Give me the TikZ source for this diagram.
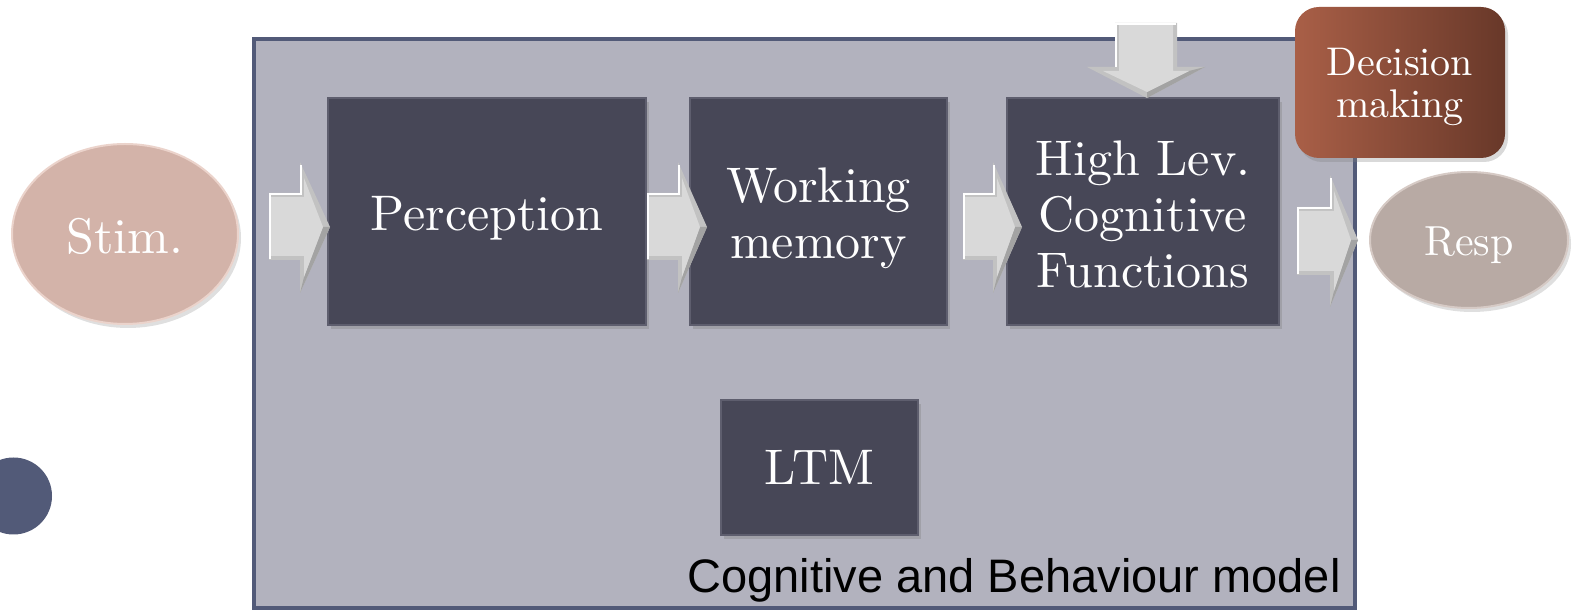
\documentclass[tikz,border=0pt]{standalone}
\usepackage{fontspec}
\newfontfamily\labelfont{Liberation Sans}
\newfontfamily\boxfont{lmroman10-regular}[Extension=.otf]
\usetikzlibrary{shapes.geometric,shadows}

\definecolor{frameblue}{HTML}{525A78}
\definecolor{framefill}{HTML}{B2B2BE}
\definecolor{boxfill}{HTML}{474757}
\definecolor{boxedge}{HTML}{5E5E6E}
\definecolor{stimfill}{HTML}{D3B3A9}
\definecolor{stimrim}{HTML}{EBD3CB}
\definecolor{respfill}{HTML}{B8AAA4}
\definecolor{resprim}{HTML}{D6CAC5}
\definecolor{arrowfill}{HTML}{D9D9D9}
\definecolor{arrowmid}{HTML}{C2C2C2}
\definecolor{arrowdark}{HTML}{A3A3A3}
\definecolor{decLight}{HTML}{A95F47}
\definecolor{decDark}{HTML}{683829}

% right-pointing block arrow: x0, head x, tip x, shaft top, shaft bottom, head top, head bottom, tip y
\newcommand{\rightblock}[8]{%
  \fill[arrowmid] (#1,#4) -- (#2,#4) -- (#2,#6) -- (#3,#8) -- (#2,#7) -- (#2,#5) -- (#1,#5) -- cycle;
  \fill[arrowdark] (#3,#8) -- (#2,#7) -- (#2+4,#7-16) -- (#3-7,#8) -- cycle;
  \fill[arrowfill] (#1+1,#4+4) -- (#2+4,#4+4) -- (#2+4,#6+16) -- (#3-7,#8) -- (#2+4,#7-16) -- (#2+4,#5-4) -- (#1+1,#5-4) -- cycle;
  \draw[white,line width=0.8pt] (#1+1,#5-1) -- (#1+1,#4+1) -- (#2+1,#4+1) -- (#2+1,#6+3);
}

\begin{document}
\begin{tikzpicture}[x=0.5pt,y=-0.5pt,
  darkbox/.style={rectangle,fill=boxfill,draw=boxedge,line width=0.8pt,inner sep=0pt,
    drop shadow={shadow xshift=1.5pt,shadow yshift=-2pt,opacity=0.35}},
  boxlabel/.style={text=white,align=center,inner sep=0pt,font=\boxfont\fontsize{25}{28}\selectfont},
  oval/.style={ellipse,inner sep=0pt,line width=1pt,
    drop shadow={shadow xshift=1.5pt,shadow yshift=-2pt,opacity=0.25}},
]
\useasboundingbox (0,0) rectangle (1572,613);
\clip (0,0) rectangle (1572,613);

% bullet on the left margin
\fill[frameblue] (13.5,496) circle[radius=38.5];

% model frame
\draw[frameblue,fill=framefill,line width=2pt] (254,39) rectangle (1355,608);

% processing stages
\node[darkbox,minimum width=159pt,minimum height=113.5pt] (perc) at (487,211.5) {};
\node[darkbox,minimum width=128.5pt,minimum height=113.5pt] (wm) at (818.5,211.5) {};
\node[darkbox,minimum width=136pt,minimum height=113.5pt] (hl) at (1143,211.5) {};
\node[darkbox,minimum width=98.5pt,minimum height=67.5pt] (ltm) at (819.5,467.5) {};
\node[boxlabel] (percT) at ([yshift=-3.5pt]perc.center) {Perception};
\node[boxlabel] (wmT) at ([yshift=-3.5pt]wm.center) {Working\\memory};
\node[boxlabel] (hlT) at ([yshift=-1.5pt]hl.center) {High Lev.\\Cognitive\\Functions};
\node[boxlabel] (ltmT) at (ltm.center) {LTM};

% input and output
\node[oval,fill=stimfill,draw=stimrim,minimum width=113pt,minimum height=90pt] (stim) at (125,234) {};
\node[oval,fill=respfill,draw=resprim,minimum width=99pt,minimum height=68pt] (resp) at (1469,240) {};
\node[boxlabel] (stimT) at ([yshift=-1pt]stim.center) {Stim.};
\node[boxlabel,font=\boxfont\fontsize{21}{24}\selectfont] (respT) at ([yshift=-2.5pt]resp.center) {Resp};

% flow arrows
\rightblock{269}{300}{330}{193}{260}{162}{293}{227}
\rightblock{647}{678}{707}{193}{260}{162}{293}{227}
\rightblock{963}{993}{1022}{193}{260}{162}{293}{227}
\rightblock{1297}{1330}{1358}{207}{275}{175}{307}{240}

% arrow into the high-level functions from above
\fill[arrowmid] (1115,23) -- (1177,23) -- (1177,67) -- (1205,67) -- (1147,98) -- (1087,67) -- (1115,67) -- cycle;
\fill[arrowdark] (1147,98) -- (1205,67) -- (1189,71) -- (1147,92) -- cycle;
\fill[arrowfill] (1119,24) -- (1173,24) -- (1173,71) -- (1189,71) -- (1147,92) -- (1103,71) -- (1119,71) -- cycle;
\draw[white,line width=0.8pt] (1116,67) -- (1116,24) -- (1176,24);

% decision making
\shade[left color=decLight,right color=decDark,rounded corners=12pt,
  drop shadow={shadow xshift=1.5pt,shadow yshift=-2pt,opacity=0.3}]
  (1295,7) rectangle (1505,158);
\node[boxlabel,font=\boxfont\fontsize{20}{21}\selectfont] (dec) at (1400,87) {Decision\\making};

% frame caption
\node[anchor=base east,inner sep=0pt,font=\labelfont\fontsize{23.5}{26}\selectfont] (cap) at (1341,592) {Cognitive and Behaviour model};
\end{tikzpicture}
\end{document}
